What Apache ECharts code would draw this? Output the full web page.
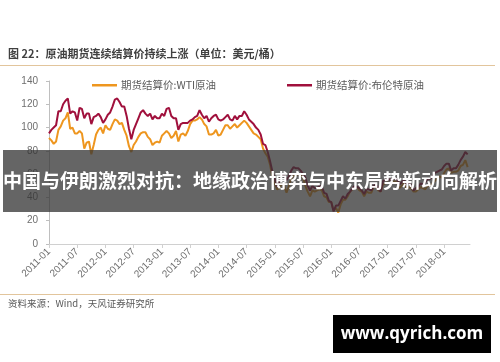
<!DOCTYPE html>
<html>
<head>
<meta charset="utf-8">
<script src="https://cdn.jsdelivr.net/npm/echarts@6/dist/echarts.min.js"></script>
<style>
html,body{margin:0;padding:0;background:#fff;}
#c{width:500px;height:362px;}
</style>
</head>
<body>
<div id="c"></div>
<script>
// semi-monthly samples starting 2011-01 (two per month), last sample 2018-06
const startYear = 2011;
const samplesPerMonth = 2;
const tickLabels = ['2011-01','2011-07','2012-01','2012-07','2013-01','2013-07','2014-01','2014-07','2015-01','2015-07','2016-01','2016-07','2017-01','2017-07','2018-01'];
const yTicks = [0,20,40,60,80,100,120,140];
const seriesNames = ['期货结算价:WTI原油','期货结算价:布伦特原油'];

const wti = [
  // 2011
  91,89, 86,88, 98,101, 106,108, 113,99, 100,95, 95,97, 95,82, 87,88, 77,85, 94,98, 100,95,
  // 2012
  102,99, 98,103, 107,106, 103,104, 98,93, 84,79, 85,88, 92,95, 96,96, 92,90, 85,87, 88,87,
  // 2013
  93,95, 97,95, 91,93, 97,88, 94,95, 93,97, 103,106, 106,107, 109,107, 103,101, 94,94, 95,98,
  // 2014
  93,94, 98,102, 102,99, 101,103, 100,102, 104,106, 104,101, 98,95, 94,92, 90,82, 78,75, 68,57,
  // 2015
  52,47, 48,52, 50,44, 50,56, 59,59, 60,60, 57,50, 45,41, 46,45, 46,47, 46,41, 40,36,
  // 2016
  36,29, 31,27, 34,38, 38,41, 45,47, 49,49, 46,45, 41,45, 44,44, 49,50, 46,45, 51,52,
  // 2017
  53,52, 53,54, 53,48, 50,53, 47,49, 48,45, 45,47, 49,48, 47,50, 50,52, 54,56, 58,57,
  // 2018
  61,64, 65,61, 62,62, 63,67, 68,72,
  66
];
const brent = [
  // 2011
  95,98, 100,102, 114,114, 120,123, 125,112, 114,113, 106,117, 116,108, 112,112, 103,109, 110,112, 109,104,
  // 2012
  107,111, 113,118, 124,125, 122,118, 118,110, 99,90, 98,103, 108,113, 115,112, 110,112, 107,110, 108,108,
  // 2013
  112,110, 116,117, 110,108, 108,98, 103,104, 104,104, 106,107, 109,110, 115,111, 108,110, 105,108, 110,111,
  // 2014
  107,106, 107,109, 111,107, 106,110, 107,110, 110,114, 111,107, 105,103, 100,98, 94,86, 85,79, 71,62,
  // 2015
  56,49, 54,60, 59,55, 58,63, 66,65, 65,63, 60,57, 50,46, 50,48, 48,50, 49,44, 43,37,
  // 2016
  36,28, 33,33, 37,41, 39,43, 45,48, 50,49, 48,46, 43,47, 47,46, 50,51, 48,45, 54,55,
  // 2017
  56,55, 56,56, 56,51, 53,55, 51,53, 50,46, 48,49, 52,51, 53,56, 56,58, 61,62, 63,64,
  // 2018
  67,69, 69,63, 65,65, 68,72, 75,79,
  77
];

function monthIndex(label){
  const p = label.split('-');
  return (parseInt(p[0],10) - startYear) * 12 + (parseInt(p[1],10) - 1);
}
const tickValues = tickLabels.map(monthIndex);
function toPairs(arr){ return arr.map((v,i)=>[i / samplesPerMonth, v]); }
const xMax = (wti.length - 1) / samplesPerMonth + 0.5;

const chart = echarts.init(document.getElementById('c'), null, {renderer:'canvas'});
const cjk = '"Noto Sans CJK SC", "Noto Sans", sans-serif';
const axisGray = '#d0d0d0';
const labelGray = '#6e6e6e';
const wtiColor = '#EE961F';
const brentColor = '#A0103C';

chart.setOption({
  animation:false,
  backgroundColor:'#ffffff',
  textStyle:{fontFamily:cjk},
  grid:{left:49, right:30, top:81, bottom:118, containLabel:false},
  legend:[
    {left:87, top:75, icon:'rect', itemWidth:25, itemHeight:2.5, itemGap:10, data:[seriesNames[0]],
     textStyle:{fontSize:10.5, color:'#595959', fontFamily:cjk, padding:[0,0,0,-1]}},
    {left:282, top:75, icon:'rect', itemWidth:25, itemHeight:2.5, itemGap:10, data:[seriesNames[1]],
     textStyle:{fontSize:10.5, color:'#595959', fontFamily:cjk, padding:[0,0,0,-1]}}
  ],
  xAxis:{
    type:'value', min:0, max:xMax,
    splitLine:{show:false},
    axisLine:{show:true, lineStyle:{color:axisGray, width:1}},
    axisTick:{show:true, length:4, lineStyle:{color:axisGray}, customValues:tickValues},
    axisLabel:{
      customValues:tickValues, rotate:45, fontSize:10, color:labelGray, margin:6,
      fontFamily:'"Liberation Sans", Arial, sans-serif',
      formatter:function(v){ const i = tickValues.indexOf(v); return i >= 0 ? tickLabels[i] : ''; }
    }
  },
  yAxis:{
    type:'value', min:0, max:140, interval:20,
    splitLine:{show:false},
    axisLine:{show:true, lineStyle:{color:'#bfbfbf', width:1}},
    axisTick:{show:true, length:3, lineStyle:{color:'#bfbfbf'}},
    axisLabel:{fontSize:10, color:labelGray, margin:11, fontFamily:'"Liberation Sans", Arial, sans-serif'}
  },
  series:[
    {name:seriesNames[0], type:'line', data:toPairs(wti), showSymbol:false, symbol:'none',
     lineStyle:{color:wtiColor, width:2}, itemStyle:{color:wtiColor}, z:2},
    {name:seriesNames[1], type:'line', data:toPairs(brent), showSymbol:false, symbol:'none',
     lineStyle:{color:brentColor, width:2}, itemStyle:{color:brentColor}, z:3}
  ],
  graphic:[
    {type:'text', left:8, top:48, z:100,
     style:{text:'图 22：原油期货连续结算价持续上涨（单位：美元/桶）', font:'bold 11px "Noto Sans CJK SC", sans-serif', fill:'#404040'}},
    {type:'line', z:100, shape:{x1:0, y1:65.5, x2:495, y2:65.5}, style:{stroke:'#E2C59C', lineWidth:1}},
    {type:'line', z:100, shape:{x1:0, y1:294.5, x2:495, y2:294.5}, style:{stroke:'#E2C59C', lineWidth:1}},
    {type:'text', left:8, top:299, z:100,
     style:{text:'资料来源：Wind，天风证券研究所', font:'9.5px "Noto Sans CJK SC", sans-serif', fill:'#595959'}},
    {type:'rect', z:100, shape:{x:3, y:150, width:494, height:62}, style:{fill:'rgba(52,52,52,0.76)'}},
    {type:'text', z:101, x:250, y:181,
     style:{text:'中国与伊朗激烈对抗：地缘政治博弈与中东局势新动向解析', font:'bold 19px "Noto Sans CJK SC", sans-serif', fill:'#ffffff', align:'center', verticalAlign:'middle'}},
    {type:'rect', z:100, shape:{x:333, y:315, width:158, height:38}, style:{fill:'#000000'}},
    {type:'text', z:101, x:412, y:334,
     style:{text:'www.qyrich.com', font:'bold 17px "Open Sans", sans-serif', fill:'#ffffff', align:'center', verticalAlign:'middle'}}
  ]
});
</script>
</body>
</html>
